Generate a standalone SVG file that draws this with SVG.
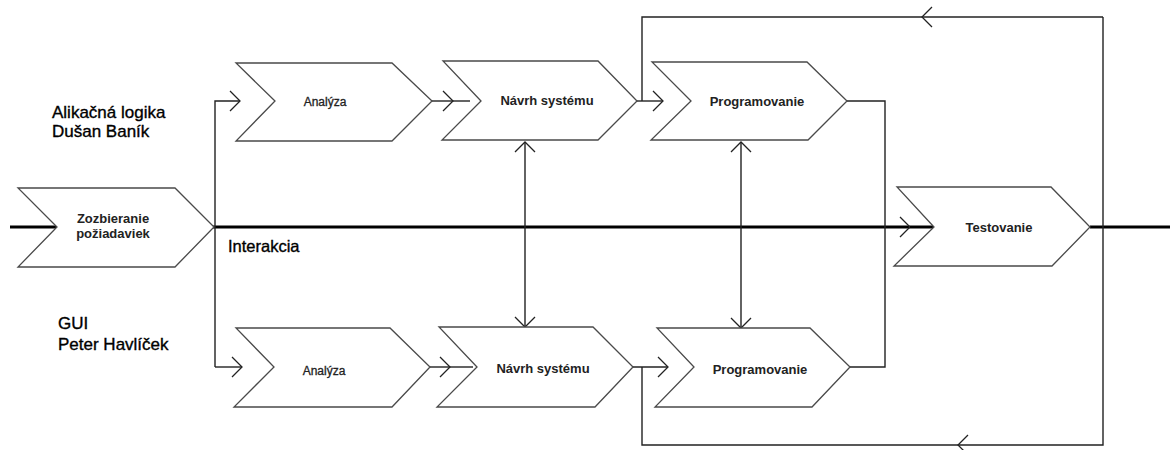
<svg xmlns="http://www.w3.org/2000/svg" width="1170" height="450" viewBox="0 0 1170 450">
<style>
.box{fill:#fff;stroke:#4a4a4a;stroke-width:1.3}
.ln{fill:none;stroke:#222;stroke-width:1.4}
.thick{fill:none;stroke:#000;stroke-width:3}
.lbl{font-family:"Liberation Sans",Arial,sans-serif;font-size:13px;font-weight:bold;fill:#222;text-anchor:middle}
.lbl2{font-family:"Liberation Sans",Arial,sans-serif;font-size:12px;fill:#222;stroke:#222;stroke-width:0.3;text-anchor:middle}
.side{font-family:"Liberation Sans",Arial,sans-serif;font-size:17px;fill:#000;stroke:#000;stroke-width:0.35}
</style>
<defs>
<marker id="ah" viewBox="-12 -12 14 24" markerWidth="14" markerHeight="24" refX="0" refY="0" orient="auto-start-reverse" markerUnits="userSpaceOnUse">
<path d="M-10,-10 L0,0 L-10,10" fill="none" stroke="#222" stroke-width="1.3"/>
</marker>
</defs>
<rect width="1170" height="450" fill="#fff"/>

<g id="connectors">
<path class="thick" d="M10,227 L57,227"/>
<path class="thick" d="M213,227 L910,227" marker-end="url(#ah)"/>
<path class="thick" d="M910,227 L934,227"/>
<path class="thick" d="M1090,227 L1170,227"/>
<path class="ln" d="M215,367 L215,101 L240,101" marker-end="url(#ah)"/>
<path class="ln" d="M215,367 L242,367" marker-end="url(#ah)"/>
<path class="ln" d="M432,101 L453,101" marker-end="url(#ah)"/>
<path class="ln" d="M453,101 L470,101"/>
<path class="ln" d="M430,367 L450,367" marker-end="url(#ah)"/>
<path class="ln" d="M450,367 L473,367"/>
<path class="ln" d="M637,101 L663,101" marker-end="url(#ah)"/>
<path class="ln" d="M633,367 L668,367" marker-end="url(#ah)"/>
<path class="ln" d="M525,142 L525,327" marker-start="url(#ah)" marker-end="url(#ah)"/>
<path class="ln" d="M741,142 L741,328" marker-start="url(#ah)" marker-end="url(#ah)"/>
<path class="ln" d="M847,101 L885,101 L885,367 L850,367"/>
<path class="ln" d="M1103,17 L922,17" marker-end="url(#ah)"/>
<path class="ln" d="M922,17 L642,17 L642,101"/>
<path class="ln" d="M1103,17 L1103,445 L958,445" marker-end="url(#ah)"/>
<path class="ln" d="M958,445 L642,445 L642,367"/>
</g>

<g id="zozbieranie">
<path class="box" d="M18,188 L175,188 L214,227 L175,267 L18,267 L57,227 Z"/>
<text class="lbl" x="113" y="223">Zozbieranie</text>
<text class="lbl" x="113" y="238">požiadaviek</text>
</g>

<g id="analyza-top">
<path class="box" d="M236,63 L392,63 L432,101 L392,141 L236,141 L275,101 Z"/>
<text class="lbl2" x="325" y="106">Analýza</text>
</g>
<g id="navrh-top">
<path class="box" d="M443,61 L598,61 L637,101 L598,140 L442,140 L481,101 Z"/>
<text class="lbl" x="547" y="105">Návrh systému</text>
</g>
<g id="prog-top">
<path class="box" d="M652,62 L807,62 L847,101 L808,140 L651,140 L691,101 Z"/>
<text class="lbl" x="757" y="106">Programovanie</text>
</g>

<g id="analyza-bottom">
<path class="box" d="M236,328 L390,328 L430,367 L392,407 L234,407 L274,367 Z"/>
<text class="lbl2" x="324" y="375">Analýza</text>
</g>
<g id="navrh-bottom">
<path class="box" d="M439,327 L593,327 L633,367 L595,407 L437,407 L477,367 Z"/>
<text class="lbl" x="543" y="373">Návrh systému</text>
</g>
<g id="prog-bottom">
<path class="box" d="M657,328 L810,328 L850,367 L812,407 L655,407 L694,367 Z"/>
<text class="lbl" x="760" y="374">Programovanie</text>
</g>

<g id="testovanie">
<path class="box" d="M897,187 L1051,187 L1090,227 L1052,266 L894,266 L934,227 Z"/>
<text class="lbl" x="999" y="232">Testovanie</text>
</g>

<g id="labels">
<text class="side" x="52" y="118">Alikačná logika</text>
<text class="side" x="52" y="137">Dušan Baník</text>
<text class="side" x="228" y="252" style="font-size:16.5px">Interakcia</text>
<text class="side" x="58" y="329">GUI</text>
<text class="side" x="58" y="350">Peter Havlíček</text>
</g>
</svg>
